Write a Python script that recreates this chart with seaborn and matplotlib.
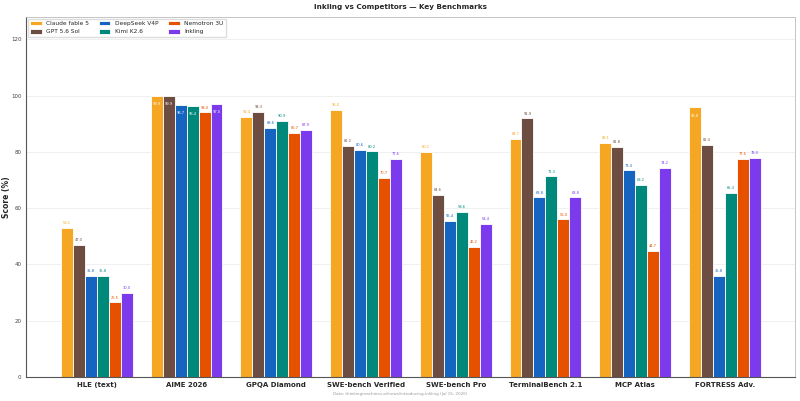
#---Inkling vs competitors bar chart
import matplotlib
matplotlib.use('Agg')
import matplotlib.pyplot as plt
import seaborn as sns
import pandas as pd

#---data
benchmarks = ['HLE (text)', 'AIME 2026', 'GPQA Diamond', 'SWE-bench Verified',
              'SWE-bench Pro', 'TerminalBench 2.1', 'MCP Atlas', 'FORTRESS Adv.']
models = ['Claude fable 5', 'GPT 5.6 Sol', 'DeepSeek V4P', 'Kimi K2.6', 'Nemotron 3U', 'Inkling']

claude = [53.1, 99.9, 92.4, 95.0, 80.1, 84.7, 83.1, 95.8]
gpt = [47.0, 99.9, 94.3, 82.2, 64.6, 91.9, 81.8, 82.4]
deepseek = [35.8, 96.7, 88.6, 80.6, 55.4, 63.8, 73.4, 35.8]
kimi = [35.8, 96.4, 90.9, 80.2, 58.6, 71.3, 68.2, 65.3]
nemotron = [26.5, 94.0, 86.7, 70.7, 46.2, 56.0, 44.7, 77.6]
inkling = [30.0, 97.0, 87.9, 77.6, 54.4, 63.8, 74.2, 78.0]

colors = ['#F5A623', '#6D4C41', '#1565C0', '#00897B', '#E65100', '#7C3AED']

#-long form for seaborn
rows = []
for m, vals in zip(models, [claude, gpt, deepseek, kimi, nemotron, inkling]):
    for b, v in zip(benchmarks, vals):
        rows.append({'benchmark': b, 'model': m, 'score': v})
df = pd.DataFrame(rows)

sns.set_style('white')
plt.rcParams['font.family'] = ['DejaVu Sans']

fig = plt.figure(figsize=(8, 4.01), dpi=100)
ax = fig.add_axes([0.0325, 0.06, 0.961, 0.898])

sns.barplot(data=df, x='benchmark', y='score', hue='model', order=benchmarks,
            hue_order=models, palette=colors, saturation=1, width=0.8,
            edgecolor='white', linewidth=0.6, ax=ax)

#-value labels: inside the bar (white) when near the top, otherwise above
for cont, col in zip(ax.containers, colors):
    for bar in cont:
        h = bar.get_height()
        xc = bar.get_x() + bar.get_width() / 2
        if h > 95.5:
            ax.text(xc, h - 3, f'{h:.1f}', ha='center', va='center',
                    fontsize=2.6, color='white')
        else:
            ax.text(xc, h + 1.0, f'{h:.1f}', ha='center', va='bottom',
                    fontsize=2.6, color=col)

ax.set_ylim(0, 128)
ax.set_xlim(-0.79, 7.78)
ax.set_yticks(range(0, 121, 20))
ax.yaxis.grid(True, color='#eeeeee', linewidth=0.6)
ax.set_axisbelow(True)
ax.set_xlabel('')
ax.set_ylabel('Score (%)', fontsize=5.5, fontweight='bold')
ax.yaxis.set_label_coords(-0.019, 0.5)
ax.tick_params(axis='y', labelsize=4, length=2, width=0.5, pad=1.2, colors='#444444')
ax.tick_params(axis='x', labelsize=5, length=0, pad=4)
for lbl in ax.get_xticklabels():
    lbl.set_fontweight('bold')
for s in ['left', 'bottom']:
    ax.spines[s].set_color('#555555')
    ax.spines[s].set_linewidth(0.8)
for s in ['top', 'right']:
    ax.spines[s].set_color('#bbbbbb')
    ax.spines[s].set_linewidth(0.6)

ax.legend(loc='upper left', ncol=3, fontsize=4.2, frameon=True, framealpha=1,
          edgecolor='#dddddd', handlelength=2.0, handleheight=0.8,
          columnspacing=1.6, borderaxespad=0.3)

fig.suptitle('Inkling vs Competitors — Key Benchmarks', fontsize=5.2,
             fontweight='bold', y=0.99)
fig.text(0.5, 0.017, 'Data: thinkingmachines.ai/news/introducing-inkling (Jul 15, 2026)',
         ha='center', va='center', fontsize=3.0, color='#999999')

plt.savefig('out.png', dpi=100)
